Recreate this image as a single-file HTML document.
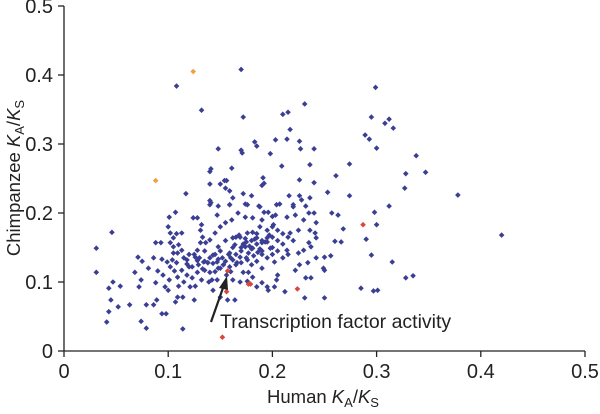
<!DOCTYPE html>
<html><head><meta charset="utf-8"><style>
body{margin:0;background:#fff}
svg text{font-family:"Liberation Sans",Arial,sans-serif;fill:#222}
</style></head><body>
<svg id="chart" width="600" height="409" viewBox="0 0 600 409" xmlns="http://www.w3.org/2000/svg">
<g id="axes"></g>
<g id="pts"></g>
<g id="ann">
<line x1="211" y1="322" x2="224" y2="285" stroke="#222" stroke-width="2.2"/>
<polygon points="227,276 219,288 228,290" fill="#222"/>
<text x="220" y="328" font-size="19.5">Transcription factor activity</text>
</g>
<text x="323" y="403" font-size="18.5" text-anchor="middle">Human <tspan font-style="italic">K</tspan><tspan font-size="13" dy="4">A</tspan><tspan dy="-4">/</tspan><tspan font-style="italic">K</tspan><tspan font-size="13" dy="4">S</tspan></text>
<text transform="translate(20,178) rotate(-90)" font-size="18.5" text-anchor="middle">Chimpanzee <tspan font-style="italic">K</tspan><tspan font-size="13" dy="4">A</tspan><tspan dy="-4">/</tspan><tspan font-style="italic">K</tspan><tspan font-size="13" dy="4">S</tspan></text>
</svg>
<script>
const xTicks=[0,0.1,0.2,0.3,0.4,0.5];
const yTicks=[0,0.1,0.2,0.3,0.4,0.5];
const xTickLabels=["0","0.1","0.2","0.3","0.4","0.5"];
const yTickLabels=["0","0.1","0.2","0.3","0.4","0.5"];
const blueX=[.031,.046,.031,.043,.047,.045,.043,.041,.054,.052,.063,.068,.071,.075,.074,.072,.079,.079,.074,.081,.088,.093,.086,.090,.088,.089,.086,.094,.098,.094,.099,.095,.097,.100,.101,.100,.107,.101,.102,.105,.108,.113,.110,.105,.102,.105,.109,.113,.104,.108,.102,.106,.113,.109,.110,.115,.114,.109,.107,.114,.118,.120,.118,.123,.121,.126,.125,.128,.129,.126,.128,.124,.128,.132,.131,.133,.131,.136,.134,.138,.135,.140,.132,.139,.143,.142,.140,.147,.150,.145,.140,.148,.143,.152,.147,.153,.148,.159,.156,.157,.164,.162,.169,.176,.185,.190,.195,.196,.202,.204,.205,.202,.195,.190,.177,.181,.172,.162,.169,.177,.181,.174,.164,.159,.162,.169,.176,.181,.188,.181,.174,.167,.161,.155,.159,.176,.188,.196,.204,.201,.214,.220,.222,.217,.214,.222,.225,.212,.195,.190,.185,.198,.147,.150,
.170,.132,.172,.210,.215,.231,.299,.295,.300,.289,.293,.217,.214,.185,.183,.203,.226,.227,.240,.198,.148,.170,.171,.141,.161,.209,.236,.274,.261,.191,.190,.192,.226,.240,.253,.274,.298,.140,.150,.155,.141,.148,.159,.162,.180,.187,.174,.172,.207,.216,.220,.226,.228,.232,.236,.240,.192,.203,.257,.263,.108,.140,.159,.117,.154,.156,.140,
.308,.312,.316,.338,.328,.347,.327,.378,.312,.420,.242,.300,.268,.290,.236,.241,.235,.242,.260,.266,.230,.237,.295,.315,.226,.234,.242,.250,.256,.249,.250,.232,.237,.328,.335,.285,.297,.301,.231,.250,
.185,.19,.195,.2,.205,.21,.2,.19,.18,.175,.17,.165,.16,.155,.15,.145,.14,.135,.13,.125,.12,.115,.135,.155,.165,.17,.18,.185,.195,.2,.205,.21,.215,.22,.225,.23,.235,.2,.19,.15,.145,.16,.165,.17,.175,.18,.185,.19,.21,.215,.2,.205,
.172,.178,.183,.188,.193,.168,.174,.186,.162,.158,.197,.182,.176,.166,.153,.148,.138,.128,.118,.143,.133,.123];
const blueY=[.149,.172,.114,.091,.100,.074,.057,.042,.094,.064,.067,.114,.136,.130,.103,.093,.067,.033,.043,.120,.157,.157,.135,.116,.099,.074,.067,.054,.054,.133,.129,.110,.093,.088,.103,.180,.201,.194,.171,.164,.170,.171,.154,.151,.157,.142,.142,.146,.132,.128,.122,.116,.117,.107,.094,.100,.078,.078,.071,.032,.132,.122,.110,.106,.093,.094,.074,.114,.125,.136,.146,.193,.193,.183,.175,.165,.157,.157,.129,.128,.117,.114,.103,.100,.088,.103,.212,.197,.180,.171,.161,.151,.139,.135,.129,.125,.120,.122,.110,.074,.074,.103,.100,.101,.093,.099,.093,.088,.093,.103,.110,.129,.135,.120,.114,.107,.114,.132,.136,.142,.149,.151,.154,.142,.164,.165,.171,.172,.180,.193,.194,.200,.190,.186,.212,.212,.209,.201,.212,.183,.194,.209,.197,.171,.146,.117,.142,.086,.164,.157,.164,.149,.103,.078,
.408,.349,.339,.343,.346,.358,.382,.339,.294,.313,.307,.321,.307,.297,.303,.306,.304,.293,.293,.286,.293,.291,.287,.264,.265,.268,.270,.271,.254,.251,.240,.243,.248,.244,.230,.225,.201,.242,.242,.236,.215,.210,.212,.222,.225,.210,.213,.228,.213,.225,.212,.225,.219,.210,.222,.200,.201,.197,.200,.197,.384,.260,.232,.228,.247,.247,.218,
.330,.336,.323,.283,.257,.259,.236,.226,.210,.168,.186,.183,.177,.162,.175,.171,.157,.164,.159,.158,.146,.151,.139,.129,.125,.128,.135,.136,.138,.120,.117,.106,.106,.106,.109,.091,.087,.088,.077,.077,
.155,.16,.158,.165,.16,.155,.15,.145,.16,.158,.145,.14,.135,.13,.145,.14,.135,.13,.135,.14,.14,.135,.145,.16,.165,.15,.148,.17,.175,.18,.175,.17,.165,.16,.175,.19,.2,.195,.19,.12,.115,.115,.125,.128,.135,.125,.13,.14,.135,.14,.14,.145,
.155,.152,.162,.148,.158,.168,.163,.143,.150,.140,.168,.138,.132,.128,.125,.133,.128,.131,.126,.127,.119,.122];
const redX=[.157,.156,.152,.177,.179,.224,.287];
const redY=[.116,.086,.020,.097,.097,.090,.183];
const orangeX=[.124,.088];
const orangeY=[.405,.247];
const X0=64,X1=585,Y0=351,Y1=6;
const sx=v=>X0+(v-0)/(0.5)*(X1-X0);
const sy=v=>Y0-(v-0)/(0.5)*(Y0-Y1);
const NS="http://www.w3.org/2000/svg";
const ax=document.getElementById('axes');
function mk(t,a,p){const e=document.createElementNS(NS,t);for(const k in a)e.setAttribute(k,a[k]);p.appendChild(e);return e;}
let l=mk('line',{x1:X0,y1:Y1,x2:X0,y2:Y0,stroke:'#222','stroke-width':1.3},ax);


l=mk('line',{x1:X0,y1:Y0,x2:X1,y2:Y0,stroke:'#222','stroke-width':1.3},ax);


xTicks.forEach((v,i)=>{
 const t=mk('line',{x1:sx(v),y1:Y0,x2:sx(v),y2:Y0+6,stroke:'#222','stroke-width':1.3},ax);
 
 
 const tx=mk('text',{x:sx(v),y:378,'font-size':20,'text-anchor':'middle'},ax);
 tx.textContent=xTickLabels[i];
 
 
});
yTicks.forEach((v,i)=>{
 const t=mk('line',{x1:X0-6,y1:sy(v),x2:X0,y2:sy(v),stroke:'#222','stroke-width':1.3},ax);
 
 
 const tx=mk('text',{x:53,y:sy(v)+7,'font-size':20,'text-anchor':'end'},ax);
 tx.textContent=yTickLabels[i];
 
 
});
const pg=document.getElementById('pts');
function dot(x,y,c,name){
 const cx=sx(x),cy=sy(y),r=2.8;
 const p=mk('polygon',{points:`${cx},${cy-r} ${cx+r},${cy} ${cx},${cy+r} ${cx-r},${cy}`,fill:c},pg);
 
 
}
blueX.forEach((x,i)=>dot(x,blueY[i],'#3b3f94','gene-point'));
redX.forEach((x,i)=>dot(x,redY[i],'#d8473a','tf-gene-point'));
orangeX.forEach((x,i)=>dot(x,orangeY[i],'#eea044','highlight-point'));
</script>
</body></html>
